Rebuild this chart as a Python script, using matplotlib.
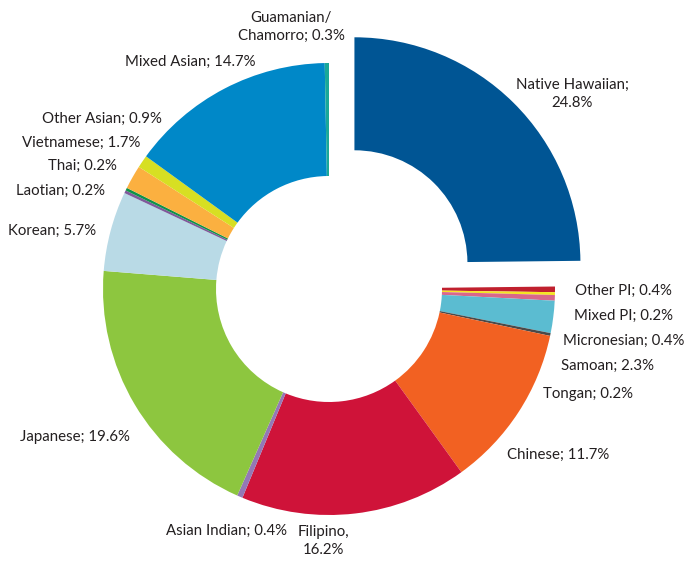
import matplotlib
matplotlib.use("Agg")
import matplotlib.pyplot as plt

categories = ["Native Hawaiian", "Other PI", "Mixed PI", "Micronesian", "Samoan",
              "Tongan", "Chinese", "Filipino", "Asian Indian", "Japanese", "Korean",
              "Laotian", "Thai", "Vietnamese", "Other Asian", "Mixed Asian",
              "Guamanian/Chamorro"]
values = [24.8, 0.4, 0.2, 0.4, 2.3, 0.2, 11.7, 16.2, 0.4, 19.6, 5.7,
          0.2, 0.2, 1.7, 0.9, 14.7, 0.3]
labels = ["Native Hawaiian;\n24.8%", "Other PI; 0.4%", "Mixed PI; 0.2%",
          "Micronesian; 0.4%", "Samoan; 2.3%", "Tongan; 0.2%", "Chinese; 11.7%",
          "Filipino,\n16.2%", "Asian Indian; 0.4%", "Japanese; 19.6%",
          "Korean; 5.7%", "Laotian; 0.2%", "Thai; 0.2%", "Vietnamese; 1.7%",
          "Other Asian; 0.9%", "Mixed Asian; 14.7%", "Guamanian/\nChamorro; 0.3%"]

colors = ["#005594", "#c0202e", "#f4e521", "#d9678a", "#5bbcd1", "#4a4a4a",
          "#f26122", "#cf1339", "#9478b6", "#8dc63f", "#b9dae6", "#7e5a9b",
          "#0f9249", "#fbb040", "#d7df23", "#0088c8", "#1aa898"]

# label anchor positions in pixels (x, y from top) and alignment
label_pos = [(572, 94, "center"), (575, 291, "left"), (574, 316, "left"),
             (563, 341, "left"), (561, 366, "left"), (543, 394, "left"),
             (507, 455, "left"), (323, 541, "center"), (287, 531, "right"),
             (130, 437, "right"), (96, 231, "right"), (105, 191, "right"),
             (117, 166, "right"), (140, 143, "right"), (162, 119, "right"),
             (256, 62, "right"), (291, 27, "center")]

W, H = 687, 563
R = 226.0
cx, cy = 329.0, 289.0

fig = plt.figure(figsize=(W / 100, H / 100), dpi=100)
ax = fig.add_axes([0, 0, 1, 1])

explode = [0.16] + [0] * (len(values) - 1)
ax.pie(values, colors=colors, startangle=90, counterclock=False, radius=1.0,
       explode=explode, wedgeprops=dict(width=0.5, linewidth=0),
       frame=True)
ax.set_xlim(-cx / R, (W - cx) / R)
ax.set_ylim(-(H - cy) / R, cy / R)
ax.set_aspect("auto")
ax.axis("off")

for lab, (px, py, ha) in zip(labels, label_pos):
    ax.text((px - cx) / R, (cy - py) / R, lab, ha=ha, va="center",
            multialignment="center", fontsize=10.8, family="Lato",
            color="#231f20", linespacing=1.3)

fig.savefig("out.png", dpi=100)
